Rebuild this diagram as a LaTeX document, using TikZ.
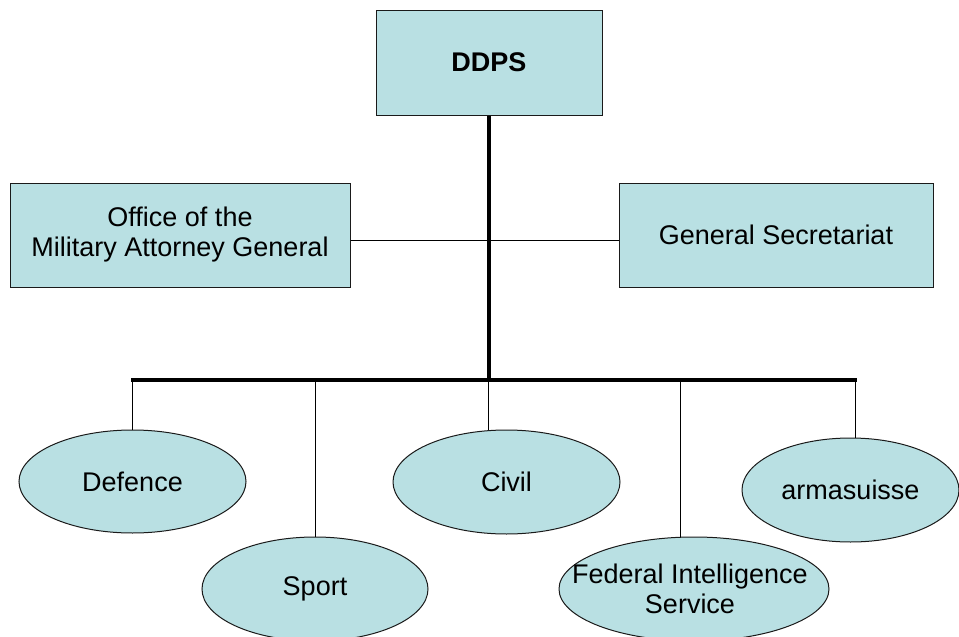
\documentclass[tikz,border=0pt]{standalone}
\usepackage{fontspec}
\setmainfont{Liberation Sans}
\usetikzlibrary{shapes.geometric}
\definecolor{boxbg}{HTML}{B9E0E3}
\definecolor{edge}{HTML}{1A1A1A}
\tikzset{
  unit/.style={draw=edge, fill=boxbg, line width=1pt, inner sep=0pt, align=center, font=\fontsize{27}{30}\selectfont},
  oval/.style={draw=edge, fill=boxbg, line width=1pt, inner sep=0pt, ellipse},
  txt/.style={align=center, inner sep=0pt, font=\fontsize{27}{30}\selectfont},
  trunk/.style={draw=black, line width=3.2pt},
  twig/.style={draw=black, line width=1pt},
}
\begin{document}
\begin{tikzpicture}[x=1pt, y=-1pt]
  \useasboundingbox (0,0) rectangle (959,637);
  \clip (0,0) rectangle (959,637);
  % head
  \node[unit, minimum width=226pt, minimum height=105pt, font=\fontsize{27}{30}\selectfont\bfseries] (ddps) at (489,62.5) {DDPS};
  % staff units
  \node[unit, minimum width=340pt, minimum height=104pt] (oag) at (180,235) {Office of the\\Military Attorney General};
  \node[unit, minimum width=314pt, minimum height=104pt] (gs) at (776,235) {General Secretariat};
  % offices
  \node[oval, minimum width=227pt, minimum height=103pt, label={[txt]center:Defence}] (def) at (132.5,481.5) {};
  \node[oval, minimum width=226pt, minimum height=104pt, label={[txt]center:Sport}] (spo) at (315,589) {};
  \node[oval, minimum width=227pt, minimum height=104pt, label={[txt]center:Civil}] (civ) at (506.5,482) {};
  \node[oval, minimum width=270pt, minimum height=104pt, label={[txt, xshift=-4pt]center:{Federal Intelligence\\Service}}] (fis) at (694,589) {};
  \node[oval, minimum width=217pt, minimum height=104pt, label={[txt]center:armasuisse}] (arm) at (850.5,490) {};
  % bar
  \coordinate (barL) at (133,380);
  \coordinate (barR) at (855,380);
  \draw[twig] ([yshift=-5pt]oag.east) -- ([yshift=-5pt]gs.west);
  \draw[trunk] (ddps.south) -- (ddps.south |- barL);
  \draw[trunk] ([xshift=-1.6pt]barL) -- ([xshift=1.6pt]barR);
  \draw[twig] (def.north) -- (def.north |- barL);
  \draw[twig] (spo.north) -- (spo.north |- barL);
  \draw[twig] (civ.109) -- (civ.109 |- barL);
  \draw[twig] (fis.104) -- (fis.104 |- barL);
  \draw[twig] (arm.85) -- (arm.85 |- barL);
\end{tikzpicture}
\end{document}
